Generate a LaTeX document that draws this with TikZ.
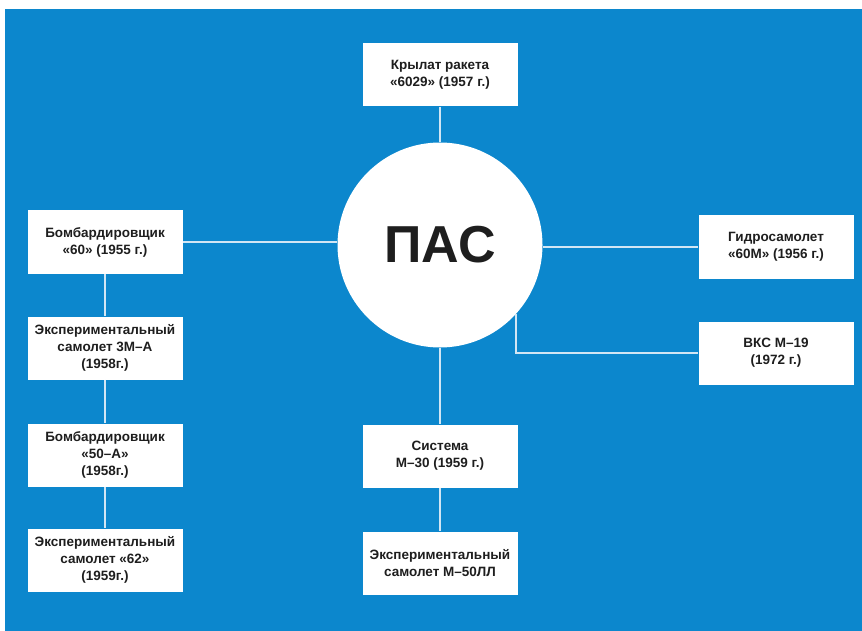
\documentclass[tikz,border=0pt]{standalone}
\usepackage{fontspec}
\setmainfont{Liberation Sans}
\usetikzlibrary{positioning}
\definecolor{fondo}{HTML}{0C87CD}
\definecolor{linea}{HTML}{D2E6F4}
\definecolor{texto}{HTML}{1E1E1E}

\begin{document}
\begin{tikzpicture}[x=1pt, y=-1pt,
    caja/.style={fill=white, text=texto, align=center, inner sep=0pt,
                 minimum width=155pt, minimum height=63pt,
                 font=\fontsize{13.5}{17}\selectfont\bfseries},
    enlace/.style={draw=linea, line width=2pt}]
  \useasboundingbox (0,0) rectangle (862,631);
  \fill[fondo] (5,9) rectangle (862,631);

  % центр
  \node[circle, fill=white, text=texto, inner sep=0pt, minimum size=205pt,
        font=\fontsize{52}{52}\selectfont\bfseries] (pas) at (440,245) {ПАС};

  \node[caja] (krylat) at (440,75) {Крылат ракета\\«6029» (1957 г.)};
  \node[caja] (gidro) at (776,247) {Гидросамолет\\«60М» (1956 г.)};
  \node[caja] (vks) at (776,353) {ВКС М–19\\(1972 г.)};
  \node[caja] (sistema) at (440,456) {Система\\М–30 (1959 г.)};
  \node[caja] (m50ll) at (440,563) {Экспериментальный\\самолет М–50ЛЛ};

  % левая колонка
  \foreach \n/\y/\t in {bomb60/242/{Бомбардировщик\\«60» (1955 г.)},
                        em3a/348/{Экспериментальный\\самолет 3М–А\\(1958г.)},
                        bomb50a/455/{Бомбардировщик\\«50–А»\\(1958г.)},
                        em62/560/{Экспериментальный\\самолет «62»\\(1959г.)}} {
    \node[caja] (\n) at (105,\y) {\t};
  }

  \draw[enlace] (krylat) -- (pas);
  \draw[enlace] (bomb60.east) -- (bomb60.east -| pas.west);
  \draw[enlace] (pas.east |- gidro.west) -- (gidro.west);
  \draw[enlace] (pas.-42) |- (vks.west);
  \draw[enlace] (pas) -- (sistema);
  \draw[enlace] (sistema) -- (m50ll);
  \draw[enlace] (bomb60) -- (em3a);
  \draw[enlace] (em3a) -- (bomb50a);
  \draw[enlace] (bomb50a) -- (em62);
\end{tikzpicture}
\end{document}
